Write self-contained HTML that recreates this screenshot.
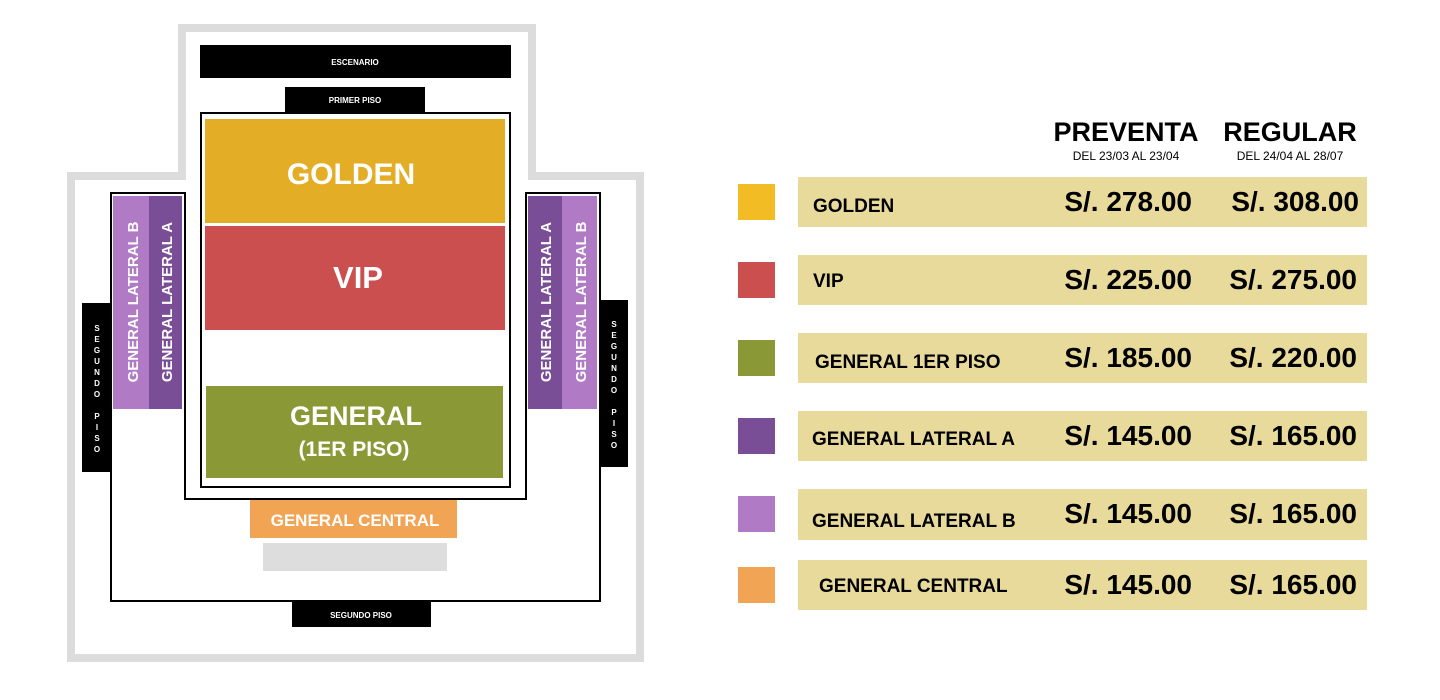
<!DOCTYPE html>
<html><head><meta charset="utf-8"><style>
html,body{margin:0;padding:0;background:#fff}
svg{display:block}
text{font-family:"Liberation Sans",sans-serif;font-weight:bold}
</style></head><body>
<svg width="1440" height="700" viewBox="0 0 1440 700" xmlns="http://www.w3.org/2000/svg">
<polygon points="182,28 532,28 532,176 640,176 640,658 71,658 71,176 182,176" fill="#fff" stroke="#dcdcdc" stroke-width="8"/>
<polygon points="111,193 185,193 185,499 526,499 526,193 600,193 600,601 111,601" fill="#fff" stroke="#000" stroke-width="2"/>
<rect x="200" y="45" width="311" height="33" fill="#000"/>
<text x="355" y="65" font-size="8" fill="#fff" text-anchor="middle">ESCENARIO</text>
<rect x="285" y="87" width="140" height="25" fill="#000"/>
<text x="355" y="103" font-size="8" fill="#fff" text-anchor="middle">PRIMER PISO</text>
<rect x="201" y="113" width="309" height="374" fill="#fff" stroke="#000" stroke-width="2"/>
<rect x="205" y="119" width="300" height="104" fill="#E3AE26"/>
<text x="351" y="184" font-size="30" fill="#fff" text-anchor="middle">GOLDEN</text>
<rect x="205" y="226" width="300" height="104" fill="#CB4F4F"/>
<text x="358" y="288" font-size="31" fill="#fff" text-anchor="middle">VIP</text>
<rect x="206" y="386" width="297" height="92" fill="#8A9935"/>
<text x="356" y="425" font-size="27" fill="#fff" text-anchor="middle">GENERAL</text>
<text x="354" y="456" font-size="21" fill="#fff" text-anchor="middle">(1ER PISO)</text>
<rect x="113" y="196" width="36" height="213" fill="#B07AC5"/>
<rect x="149" y="196" width="33" height="213" fill="#7A4E96"/>
<rect x="528" y="196" width="34" height="213" fill="#7A4E96"/>
<rect x="562" y="196" width="35" height="213" fill="#B07AC5"/>
<text transform="translate(138,302) rotate(-90)" font-size="15" fill="#fff" text-anchor="middle">GENERAL LATERAL B</text>
<text transform="translate(172,302) rotate(-90)" font-size="15" fill="#fff" text-anchor="middle">GENERAL LATERAL A</text>
<text transform="translate(551,302) rotate(-90)" font-size="15" fill="#fff" text-anchor="middle">GENERAL LATERAL A</text>
<text transform="translate(586,302) rotate(-90)" font-size="15" fill="#fff" text-anchor="middle">GENERAL LATERAL B</text>
<rect x="82" y="303" width="29" height="169" fill="#000"/>
<rect x="600" y="300" width="28" height="167" fill="#000"/>
<g font-size="8" fill="#fff" text-anchor="middle">
<text x="97" y="331">S</text><text x="97" y="342">E</text><text x="97" y="353">G</text><text x="97" y="364">U</text><text x="97" y="375">N</text><text x="97" y="386">D</text><text x="97" y="397">O</text><text x="97" y="419">P</text><text x="97" y="430">I</text><text x="97" y="441">S</text><text x="97" y="452">O</text>
<text x="614" y="327">S</text><text x="614" y="338">E</text><text x="614" y="349">G</text><text x="614" y="360">U</text><text x="614" y="371">N</text><text x="614" y="382">D</text><text x="614" y="393">O</text><text x="614" y="415">P</text><text x="614" y="426">I</text><text x="614" y="437">S</text><text x="614" y="448">O</text>
</g>
<rect x="250" y="500" width="207" height="38" fill="#F2A455"/>
<text x="355" y="526" font-size="17" fill="#fff" text-anchor="middle">GENERAL CENTRAL</text>
<rect x="263" y="543" width="184" height="28" fill="#dddddd"/>
<rect x="292" y="601" width="139" height="26" fill="#000"/>
<text x="361" y="618" font-size="8" fill="#fff" text-anchor="middle">SEGUNDO PISO</text>

<text x="1126" y="141" font-size="27" fill="#000" text-anchor="middle">PREVENTA</text>
<text x="1126" y="160" font-size="12" style="font-weight:normal" fill="#000" text-anchor="middle">DEL 23/03 AL 23/04</text>
<text x="1290" y="141" font-size="27" fill="#000" text-anchor="middle">REGULAR</text>
<text x="1290" y="160" font-size="12" style="font-weight:normal" fill="#000" text-anchor="middle">DEL 24/04 AL 28/07</text>

<g font-size="28" fill="#000">
<rect x="738" y="184" width="37" height="36" fill="#F2BC24"/>
<rect x="798" y="177" width="569" height="50" fill="#E8DA9A"/>
<text x="813" y="212" font-size="19">GOLDEN</text>
<text x="1192" y="211" text-anchor="end">S/. 278.00</text>
<text x="1359" y="211" text-anchor="end">S/. 308.00</text>

<rect x="738" y="262" width="37" height="36" fill="#CB4F4F"/>
<rect x="798" y="255" width="569" height="50" fill="#E8DA9A"/>
<text x="813" y="287" font-size="19">VIP</text>
<text x="1192" y="289" text-anchor="end">S/. 225.00</text>
<text x="1357" y="289" text-anchor="end">S/. 275.00</text>

<rect x="738" y="340" width="37" height="36" fill="#8A9935"/>
<rect x="798" y="333" width="569" height="50" fill="#E8DA9A"/>
<text x="815" y="368" font-size="19">GENERAL 1ER PISO</text>
<text x="1192" y="367" text-anchor="end">S/. 185.00</text>
<text x="1357" y="367" text-anchor="end">S/. 220.00</text>

<rect x="738" y="418" width="37" height="36" fill="#7A4E96"/>
<rect x="798" y="411" width="569" height="50" fill="#E8DA9A"/>
<text x="812" y="445" font-size="19">GENERAL LATERAL A</text>
<text x="1192" y="445" text-anchor="end">S/. 145.00</text>
<text x="1357" y="445" text-anchor="end">S/. 165.00</text>

<rect x="738" y="496" width="37" height="36" fill="#B07AC5"/>
<rect x="798" y="489" width="569" height="51" fill="#E8DA9A"/>
<text x="812" y="527" font-size="19">GENERAL LATERAL B</text>
<text x="1192" y="523" text-anchor="end">S/. 145.00</text>
<text x="1357" y="523" text-anchor="end">S/. 165.00</text>

<rect x="738" y="567" width="37" height="36" fill="#F2A455"/>
<rect x="798" y="560" width="569" height="50" fill="#E8DA9A"/>
<text x="819" y="592" font-size="19">GENERAL CENTRAL</text>
<text x="1192" y="594" text-anchor="end">S/. 145.00</text>
<text x="1357" y="594" text-anchor="end">S/. 165.00</text>
</g>
</svg>
</body></html>
